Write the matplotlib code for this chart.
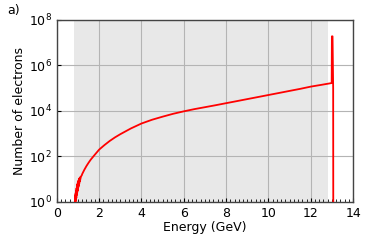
import matplotlib
matplotlib.use("Agg")
import matplotlib.pyplot as plt
from matplotlib.ticker import MultipleLocator, LogLocator, NullLocator

# energy (GeV) and electron counts
energy = [0.86, 0.87, 0.88, 0.89, 0.90, 0.91, 0.92, 0.93, 0.94, 0.95,
          0.96, 0.97, 0.98, 0.99, 1.00, 1.01, 1.02, 1.03, 1.04, 1.05,
          1.06, 1.07, 1.08, 1.09, 1.10, 1.12, 1.14, 1.16, 1.18, 1.20,
          1.30, 1.40, 1.50, 1.60, 1.77, 2.00, 2.25, 2.50, 2.75, 3.00,
          3.50, 4.00, 4.50, 5.00, 5.50, 6.00, 6.50, 7.00, 7.50, 8.00,
          8.50, 9.00, 9.50, 10.00, 10.50, 11.00, 11.50, 12.00, 12.50,
          12.99, 13.00, 13.03, 13.06, 13.065]
counts = [0.8, 2, 1, 2.5, 1.2, 3, 1.5, 4, 2, 5, 2.5, 6, 3, 7, 3.5, 8, 4.5,
          9, 5.5, 10, 6.5, 11, 8, 12, 9, 11, 13, 14, 15, 17,
          26, 38, 53, 72, 112, 200, 316, 480, 690, 950,
          1700, 2800, 4100, 5600, 7500, 9600, 12000, 14600, 17800, 21900,
          26900, 33100, 40700, 50100, 61600, 75900, 93300, 117000, 140000,
          168000, 1.9e7, 1.9e7, 1e5, 0.5]

span_lo, span_hi = 0.8, 12.8

fig = plt.figure(figsize=(3.74, 2.49), dpi=100)
ax = fig.add_axes([0.152, 0.189, 0.792, 0.731])

ax.axvspan(span_lo, span_hi, color="#e8e8e8", zorder=0, lw=0)
ax.grid(True, which="major", color="#b4b4b4", linewidth=0.8, zorder=1)
ax.set_axisbelow(True)

ax.plot(energy, counts, color="red", linewidth=1.3, zorder=3)

ax.set_yscale("log")
ax.set_xlim(0, 14)
ax.set_ylim(1, 1e8)
ax.xaxis.set_major_locator(MultipleLocator(2))
ax.xaxis.set_minor_locator(MultipleLocator(0.2))
ax.yaxis.set_major_locator(LogLocator(base=100))
ax.yaxis.set_minor_locator(NullLocator())
ax.tick_params(axis="both", which="major", labelsize=9, length=3,
               direction="in", colors="black")
ax.tick_params(axis="x", which="minor", length=2, direction="in")

for sp in ax.spines.values():
    sp.set_color("#444444")
    sp.set_linewidth(1.0)

ax.set_xlabel("Energy (GeV)", fontsize=9, labelpad=1)
ax.set_ylabel("Number of electrons", fontsize=9, labelpad=2)
fig.text(0.02, 0.945, "a)", fontsize=9)

fig.savefig("out.png", dpi=100)
